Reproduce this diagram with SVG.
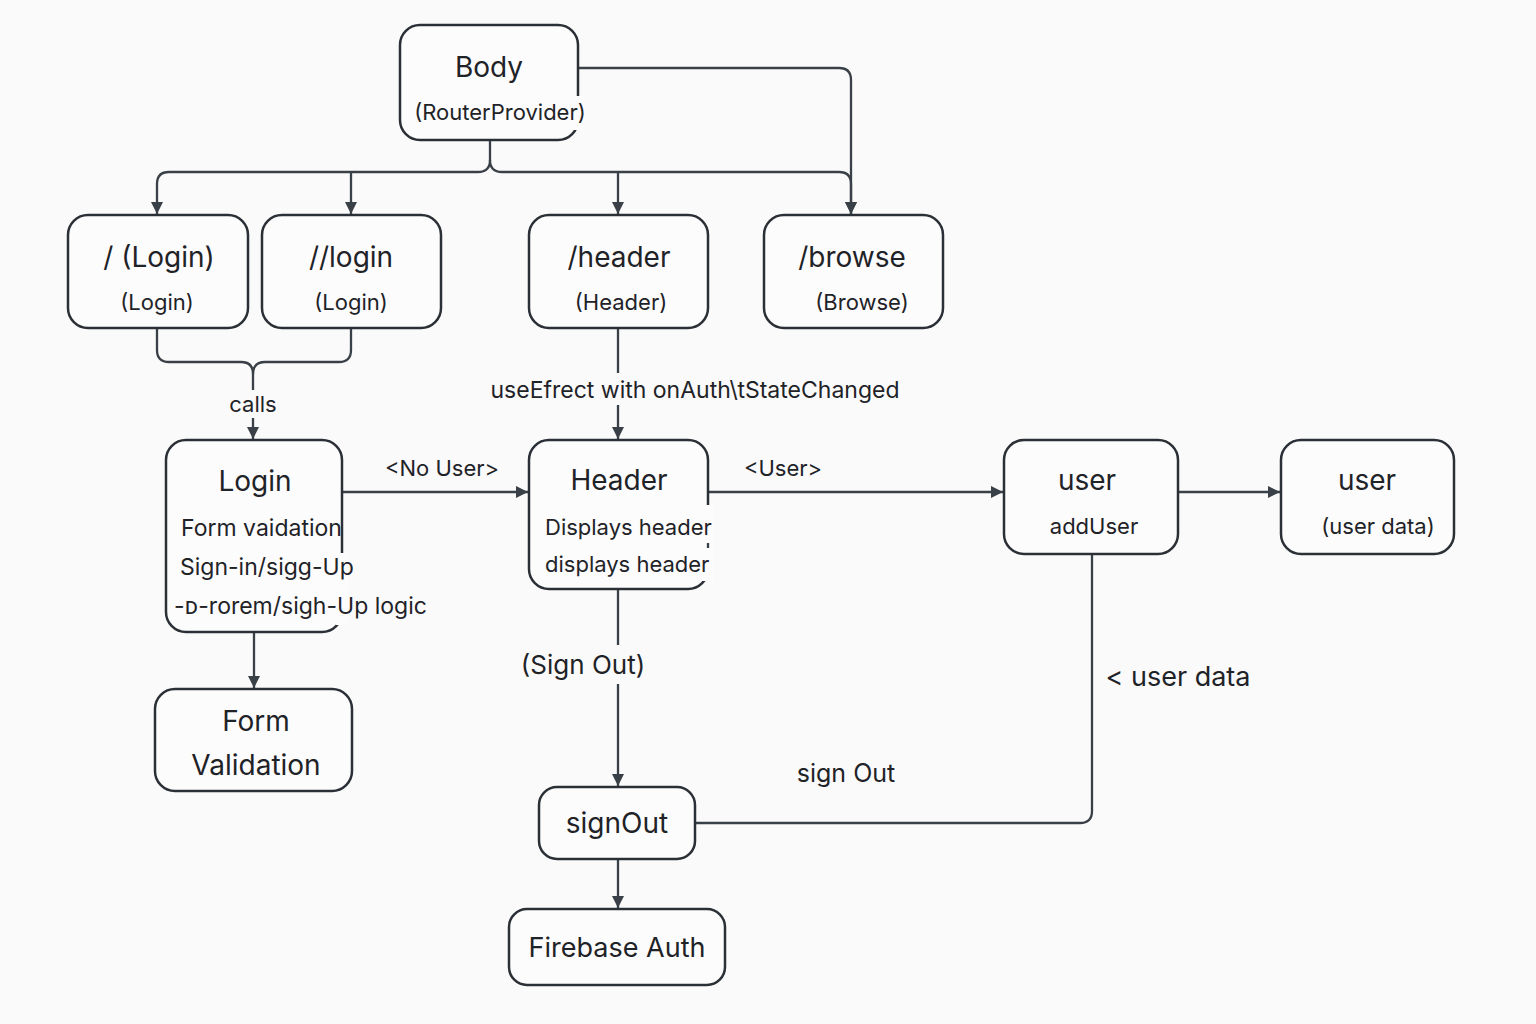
<svg xmlns="http://www.w3.org/2000/svg" width="1536" height="1024" viewBox="0 0 1536 1024">
<style>
.n{fill:#fcfcfc;stroke:#2b3036;stroke-width:2.5}
.c{fill:none;stroke:#3a4047;stroke-width:2.3}
.k{fill:#fcfcfc;stroke:none}
text{font-family:Inter,"Noto Sans","DejaVu Sans",sans-serif;fill:#1f2328}
.t{font-size:28px;text-anchor:middle}
.s{font-size:22px;text-anchor:middle}
.b{font-size:23px}
.l{font-size:22px;text-anchor:middle}
</style>
<defs>
<marker id="a" viewBox="0 0 10 10" refX="10" refY="5" markerWidth="13" markerHeight="12" markerUnits="userSpaceOnUse" orient="auto-start-reverse">
<path d="M0,0 L10,5 L0,10 z" fill="#3a4047"/>
</marker>
</defs>
<rect width="1536" height="1024" fill="#fafafa"/>
<g id="connectors">
<path class="c" d="M490,140 V160 Q490,172 478,172 H169 Q157,172 157,184 V214" marker-end="url(#a)"/>
<path class="c" d="M490,160 Q490,172 502,172 H839 Q851,172 851,184 V214" marker-end="url(#a)"/>
<path class="c" d="M351,172 V214" marker-end="url(#a)"/>
<path class="c" d="M618,172 V214" marker-end="url(#a)"/>
<path class="c" d="M578,68 H839 Q851,68 851,80 V214" marker-end="url(#a)"/>
<path class="c" d="M157,328 V350 Q157,362 169,362 H241 Q253,362 253,374 V390"/>
<path class="c" d="M351,328 V350 Q351,362 339,362 H265 Q253,362 253,374"/>
<path class="c" d="M253,418 V439" marker-end="url(#a)"/>
<path class="c" d="M618,328 V373"/>
<path class="c" d="M618,405 V439" marker-end="url(#a)"/>
<path class="c" d="M342,492 H528" marker-end="url(#a)"/>
<path class="c" d="M708,492 H1003" marker-end="url(#a)"/>
<path class="c" d="M1178,492 H1280" marker-end="url(#a)"/>
<path class="c" d="M254,632 V688" marker-end="url(#a)"/>
<path class="c" d="M618,589 V645"/>
<path class="c" d="M618,684 V786" marker-end="url(#a)"/>
<path class="c" d="M1092,554 V811 Q1092,823 1080,823 H695"/>
<path class="c" d="M618,859 V908" marker-end="url(#a)"/>
<text class="l" x="253" y="412">calls</text>
<text class="l" x="695" y="398" style="font-size:23px">useEfrect with onAuth\tStateChanged</text>
<text class="l" x="442" y="476">&lt;No User&gt;</text>
<text class="l" x="783" y="476">&lt;User&gt;</text>
<text class="l" x="583" y="674" style="font-size:26px">(Sign Out)</text>
<text class="l" x="1178" y="686" style="font-size:27px">&lt; user data</text>
<text class="l" x="846" y="782" style="font-size:25px">sign Out</text>
</g>
<g id="body"><rect class="n" x="400" y="25" width="178" height="115" rx="20"/><rect class="k" x="572" y="96" width="12" height="34"/><text class="t" x="489" y="77">Body</text><text class="s" x="500" y="120">(RouterProvider)</text></g>
<g id="route-root"><rect class="n" x="68" y="215" width="180" height="113" rx="20"/><text class="t" x="159" y="267">/ (Login)</text><text class="s" x="157" y="310">(Login)</text></g>
<g id="route-login"><rect class="n" x="262" y="215" width="179" height="113" rx="20"/><text class="t" x="351" y="267">//login</text><text class="s" x="351" y="310">(Login)</text></g>
<g id="route-header"><rect class="n" x="529" y="215" width="179" height="113" rx="20"/><text class="t" x="619" y="267">/header</text><text class="s" x="621" y="310">(Header)</text></g>
<g id="route-browse"><rect class="n" x="764" y="215" width="179" height="113" rx="20"/><text class="t" x="852" y="267">/browse</text><text class="s" x="862" y="310">(Browse)</text></g>
<g id="login"><rect class="n" x="166" y="440" width="176" height="192" rx="20"/><rect class="k" x="336" y="553" width="12" height="72"/><text class="t" x="255" y="491">Login</text><text class="b" x="181" y="536">Form vaidation</text><text class="b" x="180" y="575">Sign-in/sigg-Up</text><text class="b" x="174" y="614">-ᴅ-rorem/sigh-Up logic</text></g>
<g id="header"><rect class="n" x="529" y="440" width="179" height="149" rx="20"/><rect class="k" x="702" y="505" width="12" height="76"/><path class="c" d="M708,543 V548"/><text class="t" x="619" y="490">Header</text><text class="b" x="545" y="535" style="font-size:22px">Displays header</text><text class="b" x="545" y="572" style="font-size:22px">displays header</text></g>
<g id="user-add"><rect class="n" x="1004" y="440" width="174" height="114" rx="20"/><text class="t" x="1087" y="490">user</text><text class="s" x="1094" y="534">addUser</text></g>
<g id="user-data"><rect class="n" x="1281" y="440" width="173" height="114" rx="20"/><text class="t" x="1367" y="490">user</text><text class="s" x="1378" y="534">(user data)</text></g>
<g id="form-validation"><rect class="n" x="155" y="689" width="197" height="102" rx="20"/><text class="t" x="256" y="731">Form</text><text class="t" x="256" y="775">Validation</text></g>
<g id="signout"><rect class="n" x="539" y="787" width="156" height="72" rx="18"/><text class="t" x="617" y="833">signOut</text></g>
<g id="firebase"><rect class="n" x="509" y="909" width="216" height="76" rx="18"/><text class="t" x="617" y="957" style="font-size:27px">Firebase Auth</text></g>
</svg>
